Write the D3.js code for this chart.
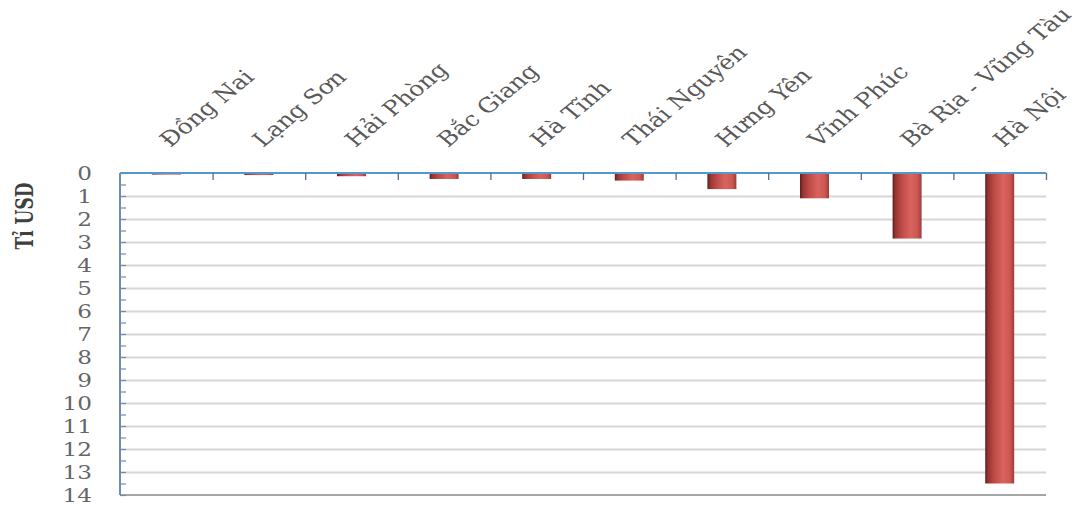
<!DOCTYPE html>
<html>
<head>
<meta charset="utf-8">
<script src="https://cdn.jsdelivr.net/npm/d3@7"></script>
<style>
  html, body { margin: 0; padding: 0; background: #fff; }
  svg { display: block; }
</style>
</head>
<body>
<svg id="chart" width="1078" height="505"></svg>
<script>
// Provinces and their values (billion USD), drawn downward from the top axis
const categories = ["Đồng Nai", "Lạng Sơn", "Hải Phòng", "Bắc Giang", "Hà Tĩnh",
                    "Thái Nguyên", "Hưng Yên", "Vĩnh Phúc", "Bà Rịa - Vũng Tàu", "Hà Nội"];
const values = [0.07, 0.09, 0.14, 0.26, 0.26, 0.33, 0.7, 1.1, 2.85, 13.5];
const yTicks = [0, 1, 2, 3, 4, 5, 6, 7, 8, 9, 10, 11, 12, 13, 14];
const yTitle = "Tỉ USD";

const svg = d3.select("#chart");
const plotL = 120, plotR = 1046, plotT = 173, plotB = 495;
const font = "'DejaVu Serif', serif";
const stretch = 1.22;

const y = d3.scaleLinear().domain([0, 14]).range([plotT, plotB]);
const pad = 0.687;
const x = d3.scaleBand().domain(categories).range([plotL, plotR])
  .paddingInner(pad).paddingOuter(pad / 2);
const xEdge = d3.scaleLinear().domain([0, categories.length]).range([plotL, plotR]);

// cylinder-like shading for the bars
const defs = svg.append("defs");
const grad = defs.append("linearGradient").attr("id", "barGrad")
  .attr("x1", "0%").attr("x2", "100%").attr("y1", "0%").attr("y2", "0%");
[["0%", "#5e1f1d"], ["10%", "#963532"], ["30%", "#bd4945"], ["62%", "#d9645f"],
 ["86%", "#cc5652"], ["100%", "#9c3c38"]].forEach(([o, c]) =>
  grad.append("stop").attr("offset", o).attr("stop-color", c));

// horizontal gridlines
const grid = svg.append("g").attr("transform", `translate(${plotL},0)`)
  .call(d3.axisRight(y).tickValues(yTicks.slice(1, -1)).tickSize(plotR - plotL).tickFormat(""));
grid.select(".domain").remove();
grid.selectAll("line").attr("stroke", "#d6d6d6").attr("stroke-width", 1.8);

// bottom boundary line
svg.append("line").attr("x1", plotL).attr("x2", plotR)
  .attr("y1", y(14)).attr("y2", y(14))
  .attr("stroke", "#a6a6a6").attr("stroke-width", 2);

// minor ticks on the value axis
const minor = svg.append("g").attr("transform", `translate(${plotL},0)`)
  .call(d3.axisRight(y).tickValues(d3.range(0, 14.01, 0.5)).tickSize(6).tickFormat(""));
minor.select(".domain").remove();
minor.selectAll("line").attr("stroke", "#6f8db0").attr("stroke-width", 1.2);

// value axis line
svg.append("line").attr("x1", plotL).attr("x2", plotL)
  .attr("y1", plotT).attr("y2", plotB)
  .attr("stroke", "#6f8db0").attr("stroke-width", 2);

// value labels
const yAx = svg.append("g").attr("transform", `translate(${plotL},0)`)
  .call(d3.axisLeft(y).tickValues(yTicks).tickSize(0).tickFormat(d3.format("d")));
yAx.select(".domain").remove();
yAx.selectAll("text")
  .attr("x", 0).attr("dy", "0.34em")
  .attr("text-anchor", "end")
  .attr("transform", `translate(-28,0) scale(${stretch},1)`)
  .attr("fill", "#666")
  .style("font-family", font).style("font-size", "19px");

// bars
svg.append("g").selectAll("rect").data(values).join("rect")
  .attr("x", (d, i) => x(categories[i]))
  .attr("y", y(0))
  .attr("width", x.bandwidth())
  .attr("height", d => y(d) - y(0))
  .attr("fill", "url(#barGrad)");

// category axis line along the top
svg.append("line").attr("x1", plotL).attr("x2", plotR)
  .attr("y1", plotT).attr("y2", plotT)
  .attr("stroke", "#5398d0").attr("stroke-width", 2.2);

// category boundary ticks
const edges = svg.append("g").attr("transform", `translate(0,${plotT})`)
  .call(d3.axisBottom(xEdge).tickValues(d3.range(1, categories.length + 1)).tickSize(7).tickFormat(""));
edges.select(".domain").remove();
edges.selectAll("line").attr("stroke", "#4d6f95").attr("stroke-width", 1.3);

// rotated category labels
const xAx = svg.append("g").attr("transform", `translate(0,${plotT})`)
  .call(d3.axisTop(x).tickSize(0));
xAx.select(".domain").remove();
xAx.selectAll("text")
  .attr("x", 0).attr("y", 0).attr("dy", 0)
  .attr("text-anchor", "start")
  .attr("transform", `translate(4,-25) scale(${stretch},1) rotate(-45)`)
  .attr("fill", "#595959")
  .style("font-family", font).style("font-size", "20.5px");

// value axis title
svg.append("text")
  .attr("transform", `translate(33,216) scale(1.4,1) rotate(-90)`)
  .attr("text-anchor", "middle")
  .attr("fill", "#404040")
  .style("font-family", font).style("font-size", "17px").style("font-weight", "bold")
  .text(yTitle);
</script>
</body>
</html>
